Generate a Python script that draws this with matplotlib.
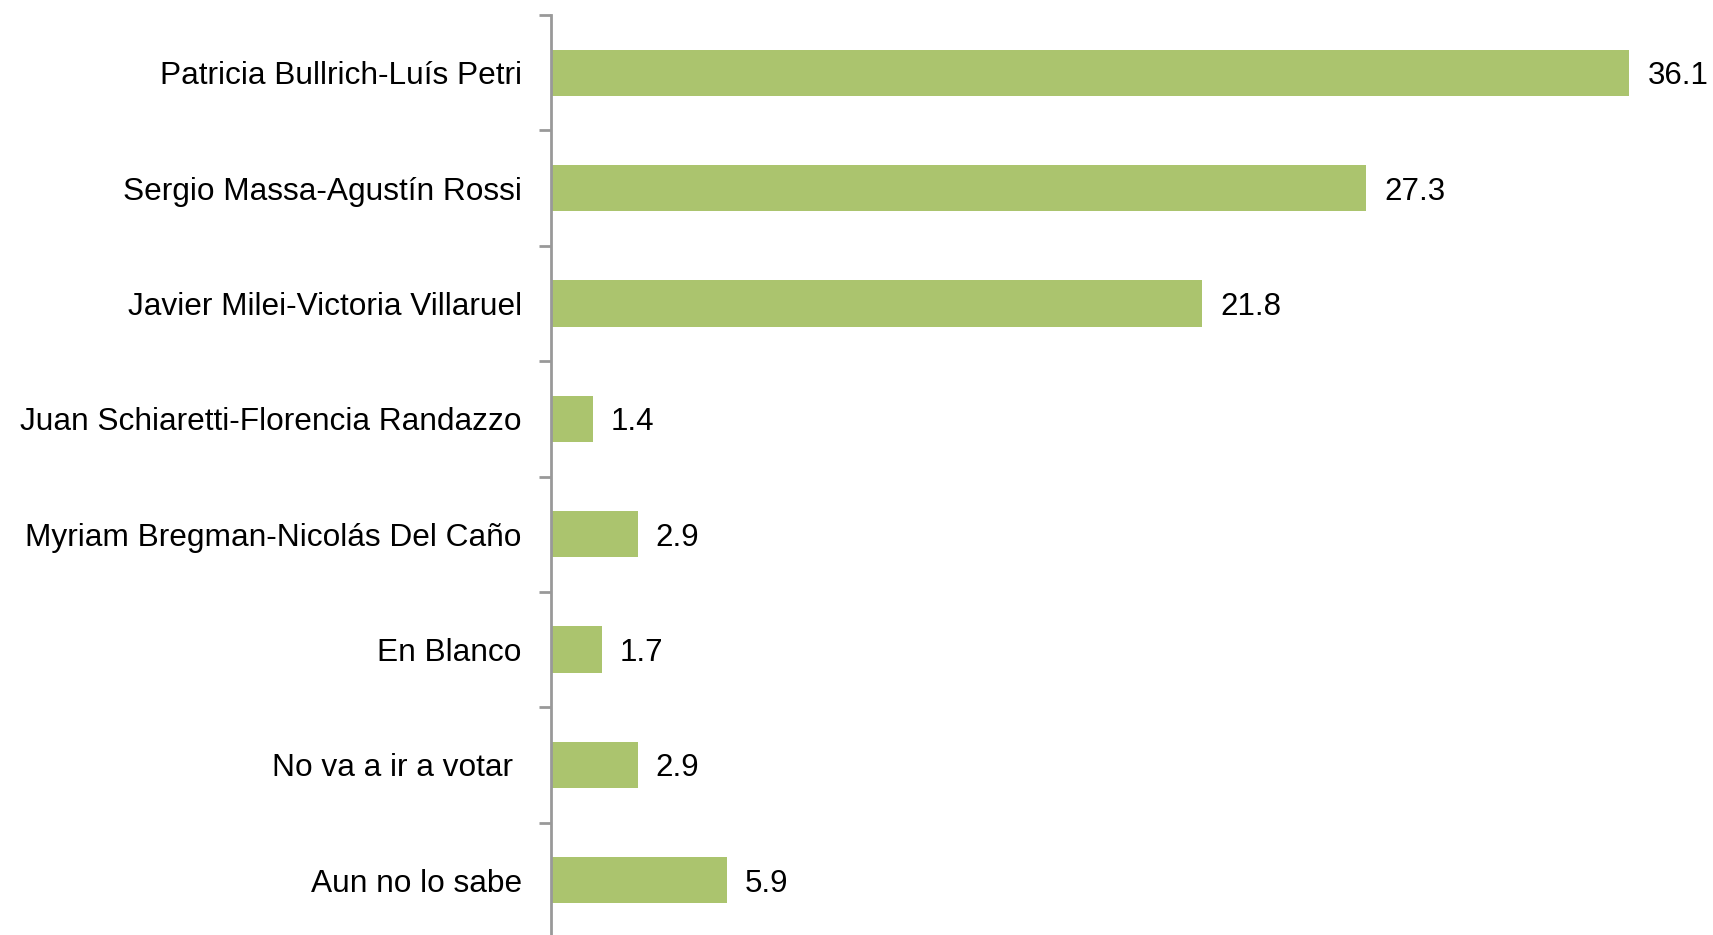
import matplotlib.pyplot as plt

plt.rcParams["font.family"] = ["Liberation Sans", "DejaVu Sans"]

categories = [
    "Patricia Bullrich-Luís Petri",
    "Sergio Massa-Agustín Rossi",
    "Javier Milei-Victoria Villaruel",
    "Juan Schiaretti-Florencia Randazzo",
    "Myriam Bregman-Nicolás Del Caño",
    "En Blanco",
    "No va a ir a votar ",
    "Aun no lo sabe",
]
values = [36.1, 27.3, 21.8, 1.4, 2.9, 1.7, 2.9, 5.9]

W, H = 1713, 935
fig = plt.figure(figsize=(W / 100, H / 100), dpi=100)
# axes: left edge at x=551 px, top at y=15 px, bottom below the image
ax = fig.add_axes([551 / W, -3 / H, (W - 551) / W, (935 - 15 + 3) / H])

n = len(categories)
ypos = list(range(n))
ax.barh(ypos, values, height=0.4, color="#abc46e", zorder=2)

ax.set_ylim(n - 0.5, -0.5)
ax.set_xlim(0, 38.9)

for y, v in zip(ypos, values):
    ax.text(v + 0.6, y, f"{v}", va="center_baseline", ha="left",
            fontsize=22.5, color="black")

# category labels centered on bars, ticks at category boundaries
ax.set_yticks(ypos)
ax.set_yticklabels(categories, fontsize=22.8, va="center_baseline")
ax.tick_params(axis="y", which="major", length=0, pad=21)
ax.set_yticks([i - 0.5 for i in range(n + 1)], minor=True)
ax.tick_params(axis="y", which="minor", length=9, width=2, color="#999999")

ax.set_xticks([])
for s in ["top", "right", "bottom"]:
    ax.spines[s].set_visible(False)
ax.spines["left"].set_color("#999999")
ax.spines["left"].set_linewidth(2)

fig.savefig("out.png", dpi=100)
